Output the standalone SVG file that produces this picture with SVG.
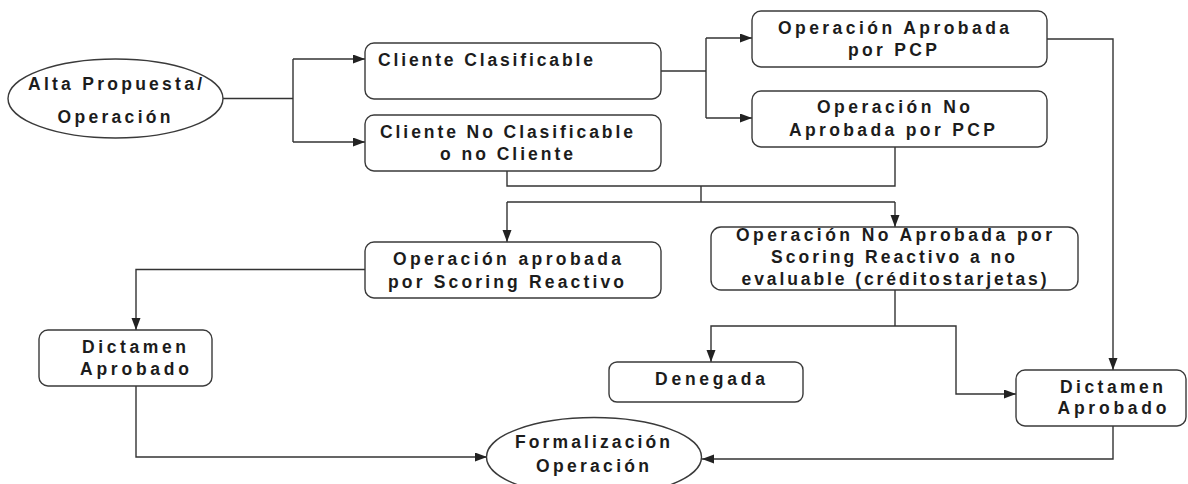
<svg xmlns="http://www.w3.org/2000/svg" width="1188" height="484" viewBox="0 0 1188 484">
<defs>
<marker id="arr" markerUnits="userSpaceOnUse" markerWidth="13" markerHeight="10" refX="12" refY="4.5" orient="auto">
<path d="M0,0 L12,4.5 L0,9 z" fill="#222"/>
</marker>
<style>
.box{fill:#fff;stroke:#3a3a3a;stroke-width:1.4}
.t{font-family:"Liberation Sans",Arial,sans-serif;font-weight:bold;font-size:17.5px;fill:#1c1c1c}
.m{text-anchor:middle}
.c{fill:none;stroke:#333;stroke-width:1.4}
.a{marker-end:url(#arr)}
</style>
</defs>
<rect width="1188" height="484" fill="#fff"/>
<g id="connectors">
<path class="c" d="M223,98.5 H293 M293,59 V142"/>
<path class="c a" d="M293,59 H365"/>
<path class="c a" d="M293,142 H365"/>
<path class="c" d="M661,71 H706 M706,38 V118"/>
<path class="c a" d="M706,38 H752"/>
<path class="c a" d="M706,118 H752"/>
<path class="c" d="M507,171 V186 H895 V147 M701,186 V202 M507,202 H895"/>
<path class="c a" d="M507,202 V242"/>
<path class="c a" d="M895,202 V227"/>
<path class="c a" d="M365,269.5 H136 V330"/>
<path class="c a" d="M136,386 V457 H487"/>
<path class="c a" d="M1047,39 H1113 V370"/>
<path class="c" d="M895,290 V326"/>
<path class="c a" d="M895,326 H711 V362"/>
<path class="c a" d="M895,326 H956 V394 H1016"/>
<path class="c a" d="M1113,426 V459 H702"/>
</g>
<g id="alta">
<ellipse class="box" cx="115.5" cy="98.5" rx="107.5" ry="39.5"/>
<text class="t m" x="115" y="90" textLength="174" lengthAdjust="spacing">Alta Propuesta/</text>
<text class="t m" x="114" y="122.5" textLength="113" lengthAdjust="spacing">Operación</text>
</g>
<g id="cliente-clasificable">
<rect class="box" x="365" y="43" width="296" height="56" rx="9"/>
<text class="t" x="378" y="66" textLength="215" lengthAdjust="spacing">Cliente Clasificable</text>
</g>
<g id="cliente-no-clasificable">
<rect class="box" x="365" y="115" width="296" height="56" rx="9"/>
<text class="t m" x="506.5" y="138" textLength="253" lengthAdjust="spacing">Cliente No Clasificable</text>
<text class="t m" x="506.5" y="160" textLength="133" lengthAdjust="spacing">o no Cliente</text>
</g>
<g id="op-aprobada-pcp">
<rect class="box" x="752" y="11" width="295" height="56" rx="9"/>
<text class="t m" x="893.5" y="34" textLength="231" lengthAdjust="spacing">Operación Aprobada</text>
<text class="t m" x="892.5" y="56" textLength="89" lengthAdjust="spacing">por PCP</text>
</g>
<g id="op-no-aprobada-pcp">
<rect class="box" x="752" y="91" width="295" height="56" rx="9"/>
<text class="t m" x="893.5" y="113" textLength="153" lengthAdjust="spacing">Operación No</text>
<text class="t m" x="892" y="136" textLength="206" lengthAdjust="spacing">Aprobada por PCP</text>
</g>
<g id="op-aprobada-scoring">
<rect class="box" x="365" y="242" width="296" height="56" rx="9"/>
<text class="t m" x="507" y="265" textLength="228" lengthAdjust="spacing">Operación aprobada</text>
<text class="t m" x="506" y="288" textLength="236" lengthAdjust="spacing">por Scoring Reactivo</text>
</g>
<g id="op-no-aprobada-scoring">
<rect class="box" x="711" y="227" width="367" height="63" rx="10"/>
<text class="t m" x="894" y="241" textLength="316" lengthAdjust="spacing">Operación No Aprobada por</text>
<text class="t m" x="893" y="263" textLength="244" lengthAdjust="spacing">Scoring Reactivo a no</text>
<text class="t m" x="894" y="285" textLength="305" lengthAdjust="spacing">evaluable (créditostarjetas)</text>
</g>
<g id="dictamen-izq">
<rect class="box" x="39" y="330" width="173" height="56" rx="9"/>
<text class="t m" x="134" y="353" textLength="104" lengthAdjust="spacing">Dictamen</text>
<text class="t m" x="134.5" y="375" textLength="109" lengthAdjust="spacing">Aprobado</text>
</g>
<g id="denegada">
<rect class="box" x="609" y="362" width="194" height="40" rx="8"/>
<text class="t m" x="710" y="385" textLength="110" lengthAdjust="spacing">Denegada</text>
</g>
<g id="dictamen-der">
<rect class="box" x="1016" y="370" width="170" height="56" rx="9"/>
<text class="t m" x="1111.5" y="393" textLength="103" lengthAdjust="spacing">Dictamen</text>
<text class="t m" x="1112" y="413.5" textLength="109" lengthAdjust="spacing">Aprobado</text>
</g>
<g id="formalizacion">
<ellipse class="box" cx="594" cy="457" rx="107.5" ry="39.5"/>
<text class="t m" x="592.5" y="447.5" textLength="155" lengthAdjust="spacing">Formalización</text>
<text class="t m" x="592.5" y="471.5" textLength="113" lengthAdjust="spacing">Operación</text>
</g>
</svg>
